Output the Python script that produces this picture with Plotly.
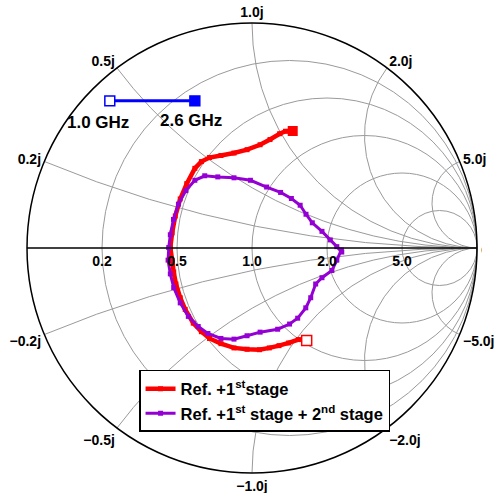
import numpy as np
import plotly.graph_objects as go

# Reflection coefficient (S11), 1.0 GHz -> 2.6 GHz
ref1_gre = [0.243, 0.206, 0.163, 0.120, 0.077, 0.033, -0.022, -0.080, -0.138, -0.189, -0.225,
            -0.261, -0.297, -0.319, -0.338, -0.348, -0.355, -0.363, -0.355, -0.341, -0.319,
            -0.290, -0.254, -0.225, -0.189, -0.138, -0.080, -0.022, 0.036, 0.080, 0.123, 0.149, 0.181]
ref1_gim = [-0.411, -0.407, -0.422, -0.434, -0.444, -0.452, -0.450, -0.444, -0.425, -0.402, -0.372,
            -0.334, -0.273, -0.221, -0.160, -0.107, -0.054, 0.002, 0.067, 0.142, 0.218,
            0.286, 0.354, 0.384, 0.402, 0.411, 0.422, 0.437, 0.459, 0.482, 0.508, 0.519, 0.520]

ref2_gre = [0.397, 0.377, 0.355, 0.311, 0.283, 0.261, 0.239, 0.203, 0.167, 0.114, 0.036, -0.022,
            -0.080, -0.138, -0.196, -0.239, -0.283, -0.319, -0.348, -0.363, -0.373, -0.370,
            -0.363, -0.349, -0.327, -0.294, -0.254, -0.210, -0.152, -0.080, -0.007, 0.065,
            0.127, 0.175, 0.214, 0.240, 0.268, 0.311, 0.348, 0.377, 0.399]
ref2_gim = [-0.009, -0.054, -0.100, -0.132, -0.160, -0.221, -0.266, -0.312, -0.338, -0.361, -0.374,
            -0.390, -0.405, -0.402, -0.380, -0.349, -0.304, -0.244, -0.176, -0.115, -0.054, 0.002,
            0.059, 0.127, 0.195, 0.255, 0.301, 0.321, 0.316, 0.312, 0.301, 0.271,
            0.247, 0.220, 0.190, 0.150, 0.112, 0.074, 0.036, 0.006, -0.018]

real_ticks = [0.2, 0.5, 1.0, 2.0, 5.0]
imag_ticks = [-5.0, -2.0, -1.0, -0.5, -0.2, 0.2, 0.5, 1.0, 2.0, 5.0]

name1 = "<b>Ref. +1<sup>st</sup>stage</b>"
name2 = "<b>Ref. +1<sup>st</sup> stage + 2<sup>nd</sup> stage</b>"

def to_z(gre, gim):
    g = np.array(gre) + 1j * np.array(gim)
    z = (1 + g) / (1 - g)
    return z.real, z.imag

r1, x1 = to_z(ref1_gre, ref1_gim)
r2, x2 = to_z(ref2_gre, ref2_gim)

RED = "#ff0000"
PUR = "#9400d3"

fig = go.Figure()
fig.add_trace(go.Scattersmith(real=r1, imag=x1, mode="lines+markers", name=name1,
                              line=dict(color=RED, width=4.5),
                              marker=dict(color=RED, size=5, symbol="square")))
fig.add_trace(go.Scattersmith(real=r2, imag=x2, mode="lines+markers", name=name2,
                              line=dict(color=PUR, width=3),
                              marker=dict(color=PUR, size=5, symbol="square")))
# start / end frequency markers of the red trace
fig.add_trace(go.Scattersmith(real=[r1[0]], imag=[x1[0]], mode="markers", showlegend=False,
                              marker=dict(color="white", size=10, symbol="square",
                                          line=dict(color=RED, width=1.5))))
fig.add_trace(go.Scattersmith(real=[r1[-1]], imag=[x1[-1]], mode="markers", showlegend=False,
                              marker=dict(color=RED, size=10, symbol="square")))

axfont = dict(family="Liberation Sans, Arial, sans-serif", size=14, color="black", weight="bold")
fig.update_layout(
    width=496, height=493,
    margin=dict(l=27, r=19, t=23, b=20),
    paper_bgcolor="white",
    smith=dict(
        domain=dict(x=[0, 1], y=[0, 1]),
        bgcolor="white",
        realaxis=dict(tickvals=real_ticks, tickformat=".1f", side="bottom", tickangle=0,
                      gridcolor="#9a9a9a", gridwidth=1, linecolor="black", linewidth=1.5,
                      tickfont=axfont, ticks=""),
        imaginaryaxis=dict(tickvals=imag_ticks, tickformat=".1f", ticksuffix="j",
                           gridcolor="#9a9a9a", gridwidth=1, linecolor="black", linewidth=1.5,
                           tickfont=axfont, ticks=""),
    ),
    showlegend=True,
    legend=dict(x=0.249, y=0.229, xanchor="left", yanchor="top",
                bgcolor="white", bordercolor="black", borderwidth=1.5,
                font=dict(family="Liberation Sans, Arial, sans-serif", size=16.5, color="black"),
                tracegroupgap=0, itemwidth=30),
)

# hide plotly's automatic infinity label (not present in the reference)
fig.add_shape(type="rect", xref="paper", yref="paper", x0=1.01, x1=1.05, y0=0.47, y1=0.53,
              fillcolor="white", line=dict(width=0), layer="above")

# frequency key (blue) in the upper left
BLUE = "#0000ff"
fig.add_shape(type="line", xref="paper", yref="paper", x0=0.184, x1=0.373, y0=0.827, y1=0.827,
              line=dict(color=BLUE, width=3))
fig.add_shape(type="rect", xref="paper", yref="paper", x0=0.173, x1=0.195, y0=0.816, y1=0.838,
              fillcolor="white", line=dict(color=BLUE, width=1.5))
fig.add_shape(type="rect", xref="paper", yref="paper", x0=0.362, x1=0.384, y0=0.816, y1=0.838,
              fillcolor=BLUE, line=dict(color=BLUE, width=1.5))
lblfont = dict(family="Liberation Sans, Arial, sans-serif", size=17, color="black", weight="bold")
fig.add_annotation(x=0.158, y=0.778, xref="paper", yref="paper", text="1.0 GHz", showarrow=False,
                   xanchor="center", yanchor="middle", font=lblfont)
fig.add_annotation(x=0.364, y=0.784, xref="paper", yref="paper", text="2.6 GHz", showarrow=False,
                   xanchor="center", yanchor="middle", font=lblfont)

fig.write_html("out.html")
